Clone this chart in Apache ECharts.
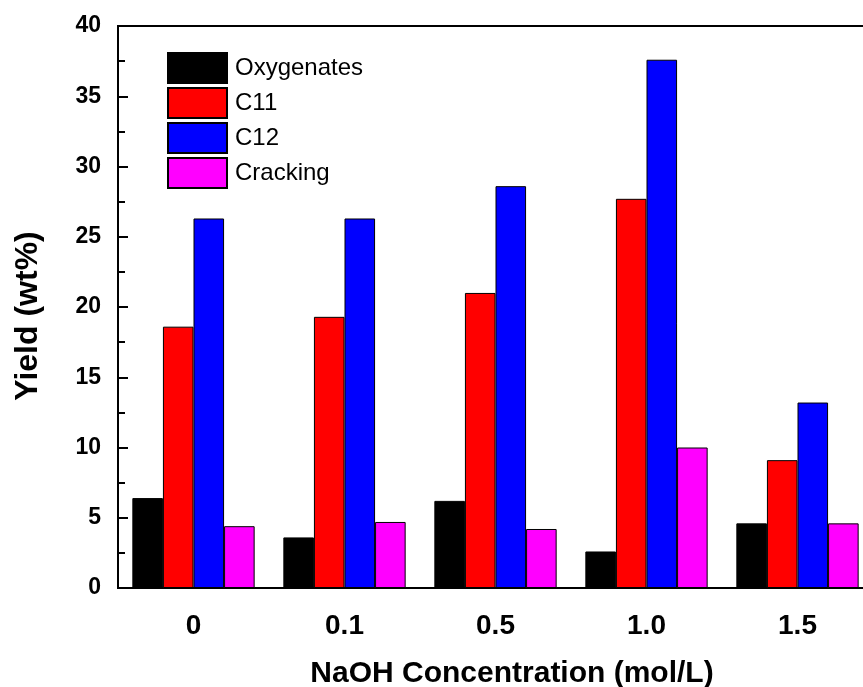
<!DOCTYPE html>
<html>
<head>
<meta charset="utf-8">
<title>Yield vs NaOH Concentration</title>
<script src="https://cdn.jsdelivr.net/npm/echarts@6/dist/echarts.min.js"></script>
<style>
  html, body { margin: 0; padding: 0; background: #fff; }
  #chart { width: 863px; height: 687px; }
</style>
</head>
<body>
<div id="chart"></div>
<script>
// NaOH concentration levels (mol/L)
var categories = ['0', '0.1', '0.5', '1.0', '1.5'];

// Product yields (wt%)
var oxygenates = [6.4, 3.6, 6.2, 2.6, 4.6];
var c11 = [18.6, 19.3, 21.0, 27.7, 9.1];
var c12 = [26.3, 26.3, 28.6, 37.6, 13.2];
var cracking = [4.4, 4.7, 4.2, 10.0, 4.6];

var seriesNames = ['Oxygenates', 'C11', 'C12', 'Cracking'];
var seriesData = [oxygenates, c11, c12, cracking];
var seriesColors = ['#000000', '#ff0000', '#0000ff', '#ff00ff'];

var FONT = '"Liberation Sans", Arial, sans-serif';

var chart = echarts.init(document.getElementById('chart'));

var series = seriesNames.map(function (name, i) {
  return {
    name: name,
    type: 'bar',
    data: seriesData[i],
    barGap: '0%',
    barCategoryGap: '19%',
    itemStyle: {
      color: seriesColors[i],
      borderColor: '#000',
      borderWidth: 1
    },
    emphasis: { disabled: true }
  };
});

chart.setOption({
  animation: false,
  backgroundColor: '#fff',
  // plot box runs past the right edge of the canvas
  grid: {
    left: 118,
    width: 755,
    top: 26,
    bottom: 99,
    outerBoundsMode: 'none',
    containLabel: false,
    show: true,
    borderColor: '#000',
    borderWidth: 2,
    backgroundColor: 'transparent'
  },
  legend: {
    data: seriesNames,
    icon: 'rect',
    orient: 'vertical',
    left: 167,
    top: 52,
    itemWidth: 59,
    itemHeight: 30,
    itemGap: 3,
    padding: 0,
    selectedMode: false,
    textStyle: {
      fontFamily: FONT,
      fontSize: 24,
      color: '#000',
      padding: [0, 0, 0, 3]
    }
  },
  xAxis: {
    type: 'category',
    data: categories,
    axisLine: { show: true, lineStyle: { color: '#000', width: 2 } },
    axisTick: { show: false },
    axisLabel: {
      fontFamily: FONT,
      fontWeight: 'bold',
      fontSize: 28,
      color: '#000',
      margin: 24
    },
    splitLine: { show: false }
  },
  yAxis: {
    type: 'value',
    min: 0,
    max: 40,
    interval: 5,
    axisLine: { show: true, lineStyle: { color: '#000', width: 2 } },
    axisTick: { show: true, inside: true, length: 10, lineStyle: { color: '#000', width: 2 } },
    minorTick: { show: true, splitNumber: 2, length: 7, lineStyle: { color: '#000', width: 2 } },
    axisLabel: {
      fontFamily: FONT,
      fontWeight: 'bold',
      fontSize: 23,
      color: '#000',
      margin: 17
    },
    splitLine: { show: false }
  },
  graphic: [
    {
      type: 'text',
      x: 512,
      y: 674,
      style: {
        text: 'NaOH Concentration (mol/L)',
        align: 'center',
        verticalAlign: 'middle',
        font: 'bold 30px ' + FONT,
        fill: '#000'
      }
    },
    {
      type: 'text',
      x: 28,
      y: 316,
      rotation: Math.PI / 2,
      style: {
        text: 'Yield (wt%)',
        align: 'center',
        verticalAlign: 'middle',
        font: 'bold 32px ' + FONT,
        fill: '#000'
      }
    }
  ],
  series: series
});
</script>
</body>
</html>
